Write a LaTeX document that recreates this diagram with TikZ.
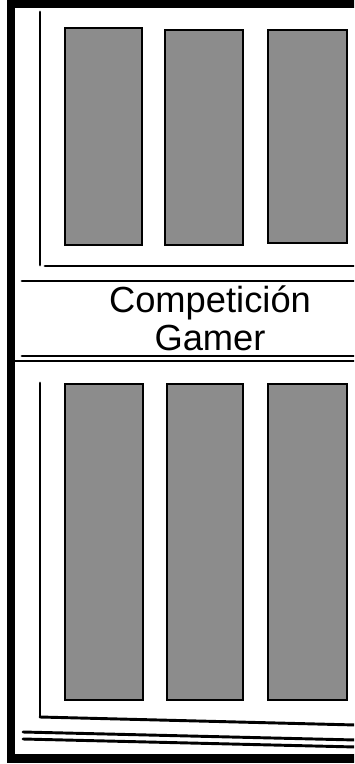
\documentclass[tikz,border=0pt]{standalone}
\usepackage{fontspec}
\setmainfont{Liberation Sans}
\begin{document}
\begin{tikzpicture}[
    x=0.3mm, y=-0.3mm,
    frame/.style={line width=7pt, line join=miter},
    rule/.style={line width=2.5pt, line cap=round},
    card/.style={draw, line width=2pt, fill=black!45},
    title/.style={font=\fontsize{31}{32}\selectfont, align=center, inner sep=0pt}
  ]
    \useasboundingbox (0,0) rectangle (354,764);
    \clip (0,0) rectangle (354,764);

    % outer frame
    \draw[frame] (360,3.5) -- (11,3.5) -- (11,758.5) -- (360,758.5);

    % upper panel
    \draw[rule] (40,12) -- (40,265);
    \draw[rule] (45,266) -- (356,266);
    \draw[card] (65,28) rectangle (142,245);
    \draw[card] (165,30) rectangle (243,245);
    \draw[card] (268,30) rectangle (347,243);

    % title band
    \draw[rule] (22,281) -- (356,281);
    \node[title, anchor=base] (title) at (210,350) {Competición\\Gamer};
    \draw[rule] (22,356) -- (356,356);
    \draw[rule] (15,361) -- (356,361);

    % lower panel
    \draw[rule] (40,383) -- (40,717);
    \draw[rule] (40,717) -- (356,725);
    \draw[card] (65,384) rectangle (143,700);
    \draw[card] (167,384) rectangle (243,700);
    \draw[card] (268,384) rectangle (347,700);

    % bottom double rule
    \draw[rule] (23,732) -- (356,740);
    \draw[rule] (23,739) -- (356,747);
  \end{tikzpicture}
\end{document}
